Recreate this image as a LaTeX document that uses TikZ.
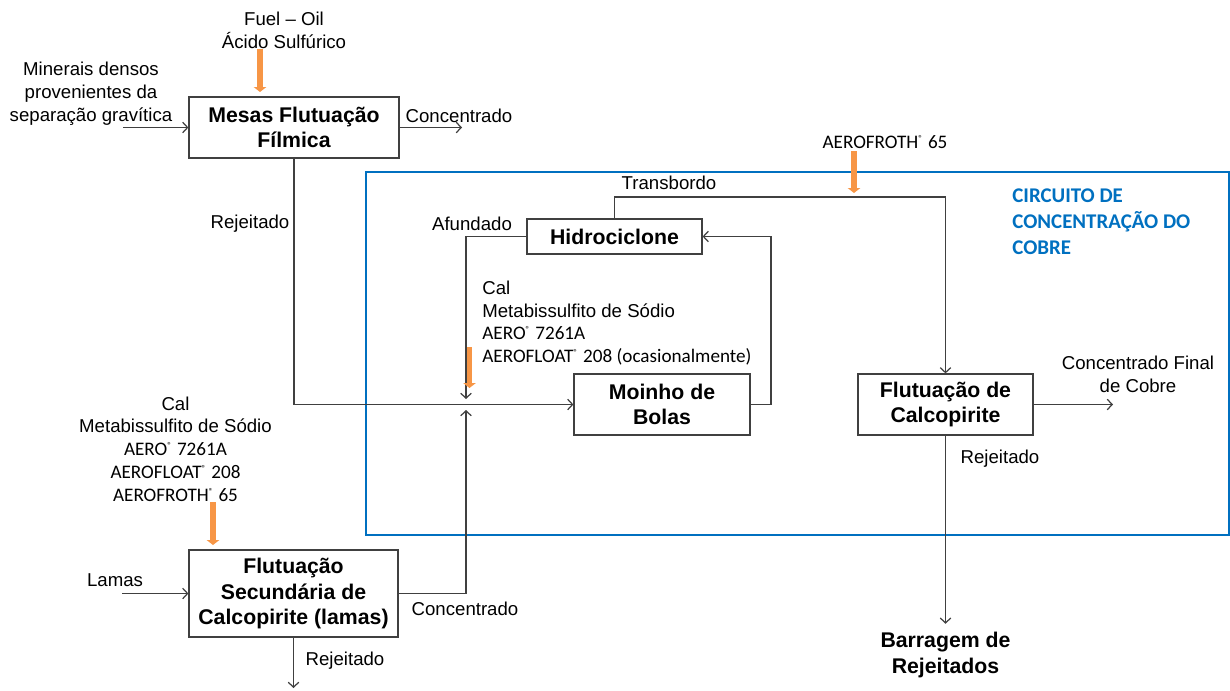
\documentclass[tikz,border=0pt]{standalone}
\usepackage{fontspec}
\setmainfont{Liberation Sans}
\newfontfamily\crl{Carlito}
\usetikzlibrary{arrows.meta}
\definecolor{dosecol}{RGB}{247,150,70}
\definecolor{framecol}{RGB}{0,112,192}
\definecolor{linecol}{RGB}{64,64,64}
\newcommand{\regm}{\textsuperscript{\fontsize{5}{5}\selectfont ®}}
\newcommand{\reagfont}{\crl\fontsize{10.9}{13}\selectfont}

\begin{document}
\begin{tikzpicture}[x=0.02cm,y=-0.02cm,
 unit/.style={draw=linecol,line width=0.7pt,inner sep=0pt,align=center,font=\fontsize{12.1}{14.3}\selectfont\bfseries},
 lbl/.style={inner sep=0pt,align=center,font=\fontsize{10.6}{13}\selectfont},
 flow/.style={draw=linecol,line width=0.7pt,-{Straight Barb[length=2.8pt,width=6pt]}},
 dose/.style={draw=dosecol,line width=3.4pt,-{Triangle[length=2.8pt,width=7pt]}}]
\useasboundingbox (0,0) rectangle (1230,690);
\draw[framecol,line width=1.2pt] (366,172) rectangle (1229,535);
\node[anchor=west,align=left,inner sep=0pt,text=framecol,font=\crl\bfseries\fontsize{11.9}{14.7}\selectfont] (circ) at (1012,222) {CIRCUITO DE\\CONCENTRAÇÃO DO\\COBRE};

\node[unit,minimum width=4.2cm,minimum height=1.22cm] (mesas) at (294,127.5) {Mesas Flutuação\\Fílmica};
\node[unit,minimum width=3.5cm,minimum height=0.7cm] (hidro) at (614.5,236.5) {Hidrociclone};
\node[unit,minimum width=3.52cm,minimum height=1.22cm] (moinho) at (662,404.5) {Moinho de\\Bolas};
\node[unit,minimum width=3.5cm,minimum height=1.22cm] (flut) at (945.5,404.5) {Flutuação de\\Calcopirite};
\node[unit,minimum width=4.18cm,minimum height=1.74cm] (sec) at (293.5,593.5) {Flutuação\\Secundária de\\Calcopirite (lamas)};
\node[lbl,outer sep=5pt,font=\fontsize{12.1}{14.3}\selectfont\bfseries] (barr) at (945.5,655) {Barragem de\\Rejeitados};

\node[lbl] (minerais) at (91,94) {Minerais densos\\provenientes da\\separação gravítica};
\node[lbl] (fuel) at (284,30.5) {Fuel – Oil\\Ácido Sulfúrico};
\node[lbl] (concA) at (459,116) {Concentrado};
\node[lbl] (rejA) at (250,224) {Rejeitado};
\node[lbl] (afund) at (472,224) {Afundado};
\node[lbl] (transb) at (669,183) {Transbordo};
\node[inner sep=0pt,font=\reagfont] (frothA) at (885,142) {AEROFROTH\regm{} 65};
\node[lbl] (concFin) at (1138,374.5) {Concentrado Final\\de Cobre};
\node[lbl] (rejB) at (1000,459) {Rejeitado};
\node[lbl] (lamas) at (115,580) {Lamas};
\node[lbl] (concB) at (465,609) {Concentrado};
\node[lbl] (rejC) at (345,661) {Rejeitado};
\node[lbl,anchor=west,align=left] (reagA) at (482,323) {Cal\\Metabissulfito de Sódio\\{\reagfont AERO\regm{} 7261A}\\{\reagfont AEROFLOAT\regm{} 208 (ocasionalmente)}};
\node[lbl] (reagB) at (175.5,449) {Cal\\Metabissulfito de Sódio\\{\reagfont AERO\regm{} 7261A}\\{\reagfont AEROFLOAT\regm{} 208}\\{\reagfont AEROFROTH\regm{} 65}};

\coordinate (minIn) at (123,127.5);
\coordinate (concOut) at (462,127.5);
\coordinate (afEnd) at (466,399);
\coordinate (secEnd) at (466,410);
\coordinate (loopR) at (771,404.5);
\coordinate (topT) at (614.5,197);
\coordinate (finOut) at (1113,404.5);
\coordinate (lamIn) at (122,593.5);
\coordinate (secRej) at (293.5,688);

\draw[flow] (minIn) -- (mesas.west);
\draw[flow] (mesas.east) -- (concOut);
\draw[flow] (mesas.south) |- (moinho.west);
\draw[flow] (hidro.west) -| (afEnd);
\draw[flow] (sec.east) -| (secEnd);
\draw[flow] (moinho.east) -- (loopR) |- (hidro.east);
\draw[flow] (hidro.north) -- (topT) -| (flut.north);
\draw[flow] (flut.east) -- (finOut);
\draw[flow] (flut.south) -- (barr.north);
\draw[flow] (lamIn) -- (sec.west);
\draw[flow] (sec.south) -- (secRej);

\coordinate (dA1) at (260,49);    \coordinate (dA2) at (260,92);
\coordinate (dB1) at (854,151);   \coordinate (dB2) at (854,193);
\coordinate (dC1) at (469.5,347); \coordinate (dC2) at (469.5,388);
\coordinate (dD1) at (213,502);   \coordinate (dD2) at (213,545);
\foreach \d in {A,B,C,D}
 \draw[dose] (d\d1) -- (d\d2);
\end{tikzpicture}
\end{document}
